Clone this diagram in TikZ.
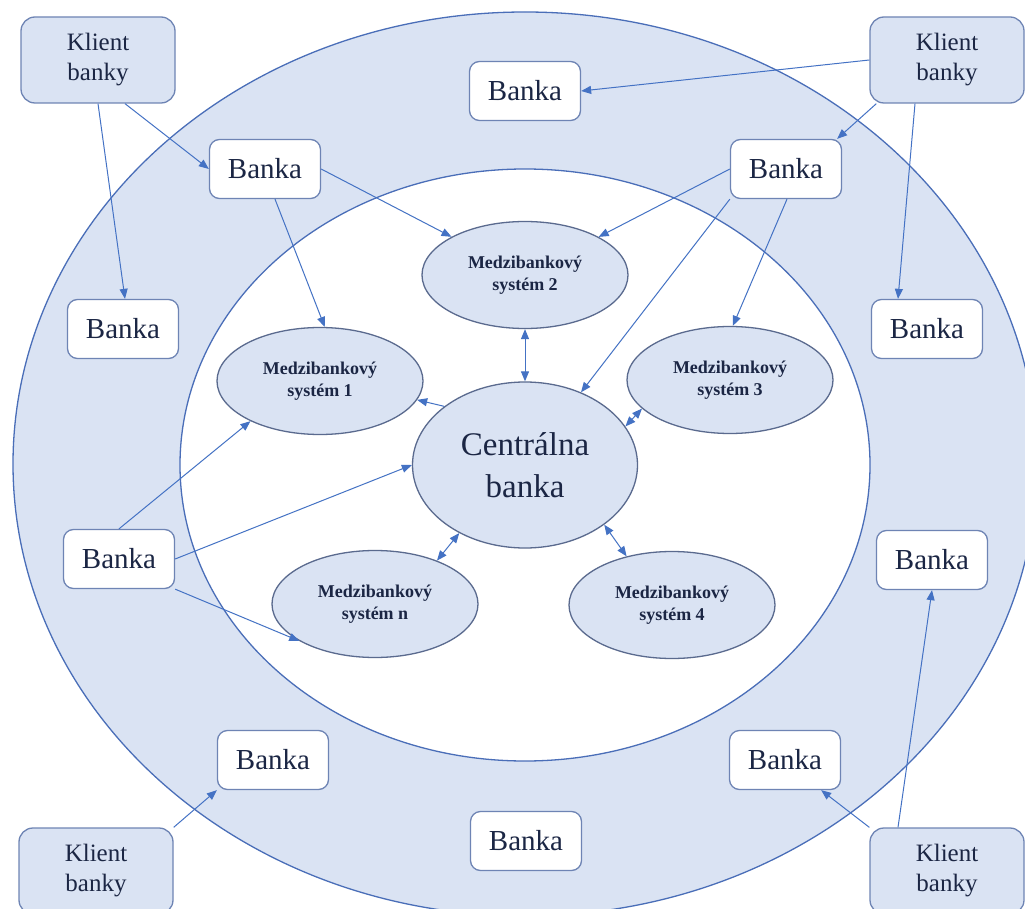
\documentclass[tikz,border=0pt]{standalone}
\usepackage{fontspec}
\setmainfont{Liberation Serif}
\usetikzlibrary{shapes.geometric,arrows.meta}
\definecolor{ringfill}{HTML}{DAE3F3}
\definecolor{ringline}{HTML}{4A6EB8}
\definecolor{boxline}{HTML}{6E84B4}
\definecolor{ellline}{HTML}{5A6A8E}
\definecolor{arrowc}{HTML}{4472C4}
\definecolor{txt}{HTML}{1B2644}
\begin{document}
\begin{tikzpicture}[x=1pt,y=-1pt,
  client/.style={draw=boxline, line width=1.3pt, fill=ringfill, rounded corners=14pt, minimum width=154pt, minimum height=86pt, inner sep=0pt, align=center, text=txt, font=\fontsize{25}{30}\selectfont},
  bankbox/.style={draw=boxline, line width=1.3pt, fill=white, rounded corners=10pt, minimum width=111pt, minimum height=59pt, inner sep=0pt, text=txt, font=\fontsize{29}{33}\selectfont},
  sysnode/.style={ellipse, draw=ellline, line width=1.3pt, fill=ringfill, minimum width=206pt, minimum height=107pt, inner sep=0pt, align=center, text=txt, font=\bfseries\fontsize{18}{22}\selectfont},
  cbnode/.style={ellipse, draw=ellline, line width=1.3pt, fill=ringfill, minimum width=225pt, minimum height=166pt, inner sep=0pt, align=center, text=txt, font=\fontsize{33}{42}\selectfont},
  conn/.style={draw=arrowc, line width=1pt, -{Triangle[length=10pt,width=8pt]}},
  biconn/.style={draw=arrowc, line width=1pt, {Triangle[length=10pt,width=8pt]}-{Triangle[length=10pt,width=8pt]}},
  ring/.style={draw=ringline, line width=1.3pt}
]
\useasboundingbox (0,0) rectangle (1025,909);
\clip (0,0) rectangle (1025,909);
% rings
\fill[ringfill] (525,464) ellipse [x radius=512pt, y radius=452pt];
\draw[ring] (525,464) ellipse [x radius=512pt, y radius=452pt];
\fill[white] (525,465) ellipse [x radius=345pt, y radius=296pt];
\draw[ring] (525,465) ellipse [x radius=345pt, y radius=296pt];
% clients
\node[client] (ktl) at (98,60) {Klient\\banky};
\node[client] (ktr) at (947,60) {Klient\\banky};
\node[client] (kbl) at (96,871) {Klient\\banky};
\node[client] (kbr) at (947,871) {Klient\\banky};
% banks
\node[bankbox] (btop) at (525,91) {Banka};
\node[bankbox] (btl) at (265,169) {Banka};
\node[bankbox] (btr) at (786,169) {Banka};
\node[bankbox] (bl) at (123,329) {Banka};
\node[bankbox] (bright) at (927,329) {Banka};
\node[bankbox] (bll) at (119,559) {Banka};
\node[bankbox] (brl) at (932,560) {Banka};
\node[bankbox] (bbl) at (273,760) {Banka};
\node[bankbox] (bbr) at (785,760) {Banka};
\node[bankbox] (bbot) at (526,841) {Banka};
% systems
\node[sysnode] (m1) at (320,381) {Medzibankový\\systém 1};
\node[sysnode] (m2) at (525,275) {Medzibankový\\systém 2};
\node[sysnode] (m3) at (730,380) {Medzibankový\\systém 3};
\node[sysnode] (mn) at (375,604) {Medzibankový\\systém n};
\node[sysnode] (m4) at (672,605) {Medzibankový\\systém 4};
\node[cbnode] (cb) at (525,465) {Centrálna\\banka};
% connectors
\draw[conn] ([xshift=27pt]ktl.south) -- (btl.west);
\draw[conn] (ktl.south) -- ([xshift=2pt]bl.north);
\draw[conn] (btl.east) -- (m2);
\draw[conn] ([xshift=10pt]btl.south) -- (m1.85);
\draw[conn] (ktr.west) -- (btop.east);
\draw[conn] ([xshift=7pt]ktr.south west) -- ([xshift=-5pt]btr.north east);
\draw[conn] ([xshift=-32pt]ktr.south) -- ([xshift=-29pt]bright.north);
\draw[conn] (btr.west) -- (m2);
\draw[conn] (btr.south west) -- (cb);
\draw[conn] ([xshift=1pt]btr.south) -- (m3.87);
\draw[biconn] (m2) -- (cb);
\draw[conn] (cb.144) -- (m1.-11);
\draw[conn] (bll.north) -- (m1.210);
\draw[conn] (bll.east) -- (cb.west);
\draw[conn] (bll.south east) -- (mn.206);
\draw[biconn] (cb.226) -- (mn.35);
\draw[biconn] (cb.-37) -- (m4.133);
\draw[biconn] (cb.21) -- (m3.198);
\draw[conn] (kbl.north east) -- (bbl.south west);
\draw[conn] (kbr.north west) -- ([xshift=-20pt]bbr.south east);
\draw[conn] ([xshift=-49pt]kbr.north) -- (brl.south);
\end{tikzpicture}
\end{document}
